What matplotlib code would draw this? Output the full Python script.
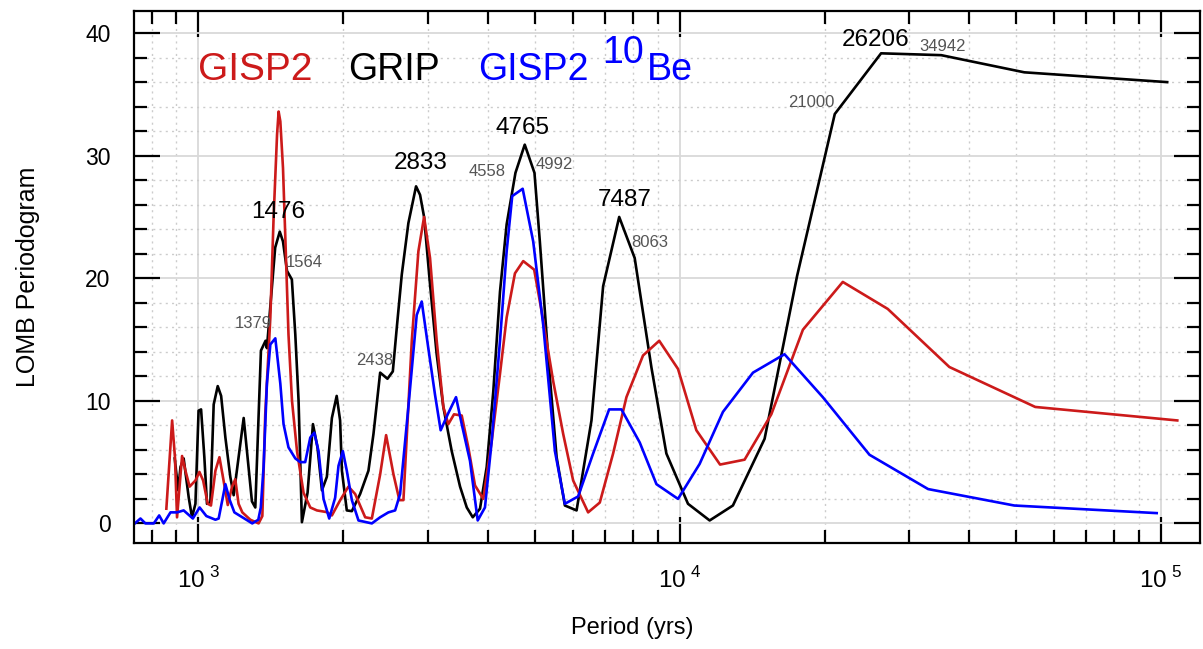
import numpy as np
import matplotlib
matplotlib.use('Agg')
import matplotlib.pyplot as plt
from matplotlib.ticker import FixedLocator, NullFormatter, FuncFormatter

plt.rcParams['font.family'] = ['Liberation Sans', 'DejaVu Sans']
plt.rcParams['mathtext.fontset'] = 'custom'
plt.rcParams['mathtext.rm'] = 'Liberation Sans'

# GRIP (black)
grip_period = [893, 908, 918, 932, 955, 970, 986, 1001, 1013, 1029,
               1042, 1059, 1076, 1097, 1115, 1138, 1165, 1184, 1242, 1292,
               1313, 1349, 1379, 1388, 1444, 1476, 1499, 1528, 1564, 1590,
               1615, 1641, 1686, 1730, 1768, 1806, 1849, 1894, 1938, 1970,
               1987, 2034, 2084, 2168, 2256, 2311, 2386, 2471, 2535, 2584,
               2646, 2731, 2833, 2888, 2944, 3029, 3127, 3228, 3360, 3497,
               3611, 3716, 3847, 3972, 4100, 4233, 4370, 4558, 4765, 4992,
               5122, 5332, 5550, 5774, 6106, 6557, 6933, 7487, 8063, 8737,
               9383, 10405, 11541, 12899, 15010, 17538, 21000, 26206, 34942, 52000, 103000]
grip_power = [5.3, 2.7, 4.6, 5.3, 2.1, 0.5, 1.6, 9.2, 9.3, 5.4,
              1.6, 1.7, 9.7, 11.2, 10.4, 7.0, 3.8, 2.3, 8.6, 1.8,
              1.3, 14.1, 14.9, 14.3, 22.5, 23.8, 23.0, 20.6, 19.9, 15.4,
              10.0, 0.1, 2.5, 8.1, 6.2, 2.7, 3.8, 8.6, 10.4, 8.4,
              4.3, 1.06, 1.0, 2.4, 4.3, 7.3, 12.3, 11.8, 12.4, 16.0,
              20.3, 24.5, 27.5, 26.8, 25.0, 19.5, 13.8, 9.5, 5.9, 3.0,
              1.3, 0.5, 1.2, 4.6, 10.8, 18.9, 24.4, 28.6, 30.9, 28.6,
              23.0, 13.5, 5.4, 1.46, 1.06, 8.4, 19.35, 25.0, 21.65, 12.7,
              5.7, 1.6, 0.24, 1.46, 6.9, 20.2, 33.4, 38.35, 38.2, 36.8, 36.0]

# GISP2 (red)
gisp2_period = [858, 882, 894, 903, 925, 940, 959, 986, 1005, 1023,
                1046, 1062, 1085, 1106, 1128, 1151, 1175, 1193, 1212, 1234,
                1282, 1334, 1358, 1377, 1411, 1433, 1457, 1468, 1480, 1499,
                1515, 1539, 1565, 1603, 1654, 1708, 1763, 1849, 1894, 1971,
                2050, 2117, 2221, 2293, 2386, 2455, 2543, 2616, 2667, 2776,
                2865, 2944, 3029, 3127, 3228, 3306, 3397, 3525, 3638, 3756,
                3908, 4068, 4233, 4370, 4547, 4731, 4985, 5166, 5460, 5727,
                6007, 6453, 6823, 7272, 7751, 8391, 9067, 9920, 10830, 12130,
                13640, 15500, 18030, 21820, 27050, 36330, 54790, 108100]
gisp2_power = [1.2, 8.4, 5.4, 0.5, 5.5, 4.3, 3.0, 3.5, 4.2, 3.5,
               1.6, 1.46, 4.3, 5.4, 3.5, 1.5, 3.0, 3.6, 1.6, 0.9,
               0.3, 0.0, 0.6, 8.9, 16.8, 24.9, 31.7, 33.6, 32.8, 29.0,
               23.6, 15.4, 10.0, 5.9, 2.5, 1.3, 1.06, 0.92, 0.65, 1.9,
               3.0, 2.4, 0.5, 0.4, 4.0, 7.2, 4.0, 1.9, 1.9, 14.9,
               22.2, 25.0, 21.65, 14.9, 9.5, 8.1, 8.9, 8.8, 6.2, 3.1,
               2.0, 6.7, 12.2, 16.8, 20.4, 21.4, 20.7, 17.3, 11.6, 7.3,
               3.5, 0.9, 1.7, 5.7, 10.3, 13.7, 14.9, 12.6, 7.6, 4.8,
               5.2, 8.9, 15.8, 19.7, 17.5, 12.76, 9.5, 8.4]

# GISP2 10Be (blue)
be10_period = [738, 758, 776, 808, 829, 847, 875, 903, 932, 974,
               1006, 1039, 1085, 1102, 1138, 1162, 1188, 1246, 1294, 1332,
               1348, 1366, 1388, 1411, 1445, 1480, 1503, 1539, 1590, 1628,
               1667, 1708, 1741, 1777, 1820, 1870, 1924, 1955, 1996, 2034,
               2084, 2151, 2293, 2386, 2482, 2563, 2625, 2731, 2842, 2911,
               3004, 3102, 3187, 3306, 3430, 3525, 3667, 3805, 3939, 4068,
               4233, 4370, 4488, 4718, 4962, 5205, 5505, 5773, 6152, 6609,
               7135, 7568, 8260, 8948, 9920, 11000, 12300, 14200, 16510, 19830,
               24790, 32820, 49550, 97950]
be10_power = [0.0, 0.4, 0.0, 0.0, 0.65, 0.0, 0.9, 0.9, 1.06, 0.4,
              1.3, 0.6, 0.3, 0.4, 3.2, 1.9, 0.9, 0.4, 0.0, 0.3,
              1.3, 4.6, 11.4, 14.6, 15.1, 11.4, 8.1, 6.2, 5.3, 5.0,
              5.0, 7.0, 7.4, 5.9, 2.0, 0.4, 2.1, 4.7, 5.9, 4.3,
              1.9, 0.24, 0.0, 0.5, 0.9, 1.06, 2.4, 9.5, 17.0, 18.1,
              14.3, 10.5, 7.6, 9.0, 10.3, 8.1, 5.1, 0.24, 1.3, 6.7,
              14.9, 22.2, 26.7, 27.3, 23.0, 16.2, 5.9, 1.6, 2.2, 5.7,
              9.3, 9.3, 6.6, 3.2, 2.0, 4.85, 9.1, 12.3, 13.8, 10.3,
              5.6, 2.8, 1.46, 0.84]

# peak labels (large, black) and side labels (small, grey)
peak_text = ['1476', '2833', '4765', '7487', '26206']
peak_x = [1466, 2902, 4725, 7690, 25510]
peak_y = [24.88, 28.94, 31.8, 25.93, 38.94]
side_text = ['1379', '1564', '2438', '4558', '4992', '8063', '21000', '34942']
side_x = [1300, 1659, 2329, 3978, 5478, 8666, 18790, 35130]
side_y = [15.93, 20.89, 12.93, 28.37, 28.94, 22.52, 33.98, 38.54]

red = '#cc1a1a'
blue = '#0000ff'

fig = plt.figure(figsize=(12.03, 6.49), dpi=100)
ax = fig.add_axes([0.1114, 0.1633, 0.8861, 0.8197])
ax.set_xscale('log')
ax.set_xlim(735, 120500)
ax.set_ylim(-1.6, 41.8)

ax.xaxis.set_major_locator(FixedLocator([1e3, 1e4, 1e5]))
ax.xaxis.set_minor_locator(FixedLocator([m * 10 ** e for e in (2, 3, 4) for m in range(2, 10)]))
ax.xaxis.set_major_formatter(FuncFormatter(lambda v, p: r'$10^{\ %d}$' % round(np.log10(v))))
ax.xaxis.set_minor_formatter(NullFormatter())
ax.yaxis.set_major_locator(FixedLocator([0, 10, 20, 30, 40]))
ax.yaxis.set_minor_locator(FixedLocator(np.arange(0, 42, 2)))

ax.set_axisbelow(True)
ax.grid(which='major', color='#d9d9d9', lw=1.3, ls='-')
ax.grid(which='minor', color='#cccccc', lw=1.0, ls=(0, (1.5, 3)))

for s in ax.spines.values():
    s.set_linewidth(1.6)
ax.tick_params(which='both', direction='in', top=True, right=True, width=1.6,
               labelsize=16.5, pad=17)
ax.tick_params(axis='x', labelsize=17.5)
ax.tick_params(which='major', length=19)
ax.tick_params(which='minor', length=9.5)

ax.plot(grip_period, grip_power, color='black', lw=1.9)
ax.plot(gisp2_period, gisp2_power, color=red, lw=1.9)
ax.plot(be10_period, be10_power, color=blue, lw=1.9)

for t, x, y in zip(peak_text, peak_x, peak_y):
    ax.text(x, y, t, ha='center', va='baseline', fontsize=17.5, color='black')
for t, x, y in zip(side_text, side_x, side_y):
    ax.text(x, y, t, ha='center', va='baseline', fontsize=12, color='#555555')

ax.text(0.060, 0.870, 'GISP2', transform=ax.transAxes, fontsize=28, color=red, va='baseline')
ax.text(0.2008, 0.870, 'GRIP', transform=ax.transAxes, fontsize=27, color='black', va='baseline')
ax.text(0.3227, 0.870, 'GISP2', transform=ax.transAxes, fontsize=27, color=blue, va='baseline')
ax.text(0.439, 0.902, '10', transform=ax.transAxes, fontsize=27, color=blue, va='baseline')
ax.text(0.481, 0.870, 'Be', transform=ax.transAxes, fontsize=27, color=blue, va='baseline')

ax.set_xlabel('Period (yrs)', fontsize=17)
ax.xaxis.set_label_coords(0.467, -0.14)
ax.set_ylabel('LOMB Periodogram', fontsize=18)
ax.yaxis.set_label_coords(-0.088, 0.5)

fig.savefig('out.png', dpi=100)
